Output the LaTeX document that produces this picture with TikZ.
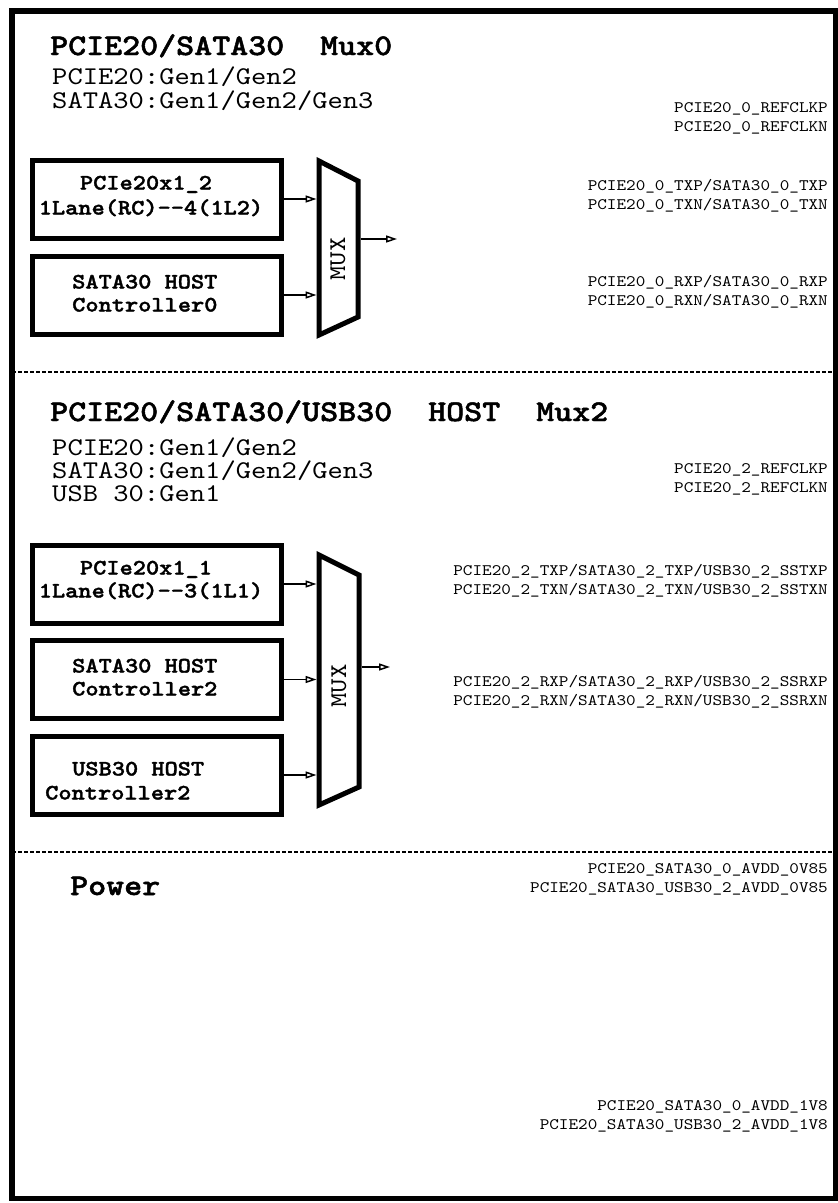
\documentclass[tikz,border=0pt]{standalone}
\usepackage{fontspec}
\newfontfamily\cour{lmmono10-regular.otf}[BoldFont=lmmonolt10-bold.otf, BoldFeatures={FakeBold=1.6}, FakeStretch=1.143]
\usetikzlibrary{arrows.meta}
\begin{document}
\begin{tikzpicture}[x=1pt,y=-1pt,
  title/.style={font=\cour\bfseries\fontsize{30}{32}\selectfont, anchor=base west, inner sep=0},
  sub/.style={font=\cour\fontsize{25.5}{27}\selectfont, anchor=base west, inner sep=0},
  sig/.style={font=\cour\fontsize{16}{18}\selectfont, anchor=base east, inner sep=0},
  btxt/.style={font=\cour\bfseries\fontsize{22}{24}\selectfont, anchor=base, inner sep=0},
  btxtw/.style={btxt, anchor=base west},
  muxtxt/.style={font=\cour\fontsize{24}{26}\selectfont, rotate=90, inner sep=0},
  blk/.style={draw, line width=5pt, minimum width=249pt, minimum height=78pt, inner sep=0},
  muxshape/.style={draw, line width=5pt},
  sepline/.style={line width=1.5pt, dash pattern=on 4pt off 2pt},
  frame/.style={line width=5.5pt},
  arr/.style={line width=1.5pt, -{Triangle[open, length=11pt, width=7pt, line width=1.5pt]}}
]
\useasboundingbox (0,0) rectangle (838,1203);

% separators and frame
\draw[sepline] (12,372) -- (835.5,372);
\draw[sepline] (12,852) -- (835.5,852);
\draw[frame] (12,11) rectangle (835.5,1198.5);

% ---------- Section 1 ----------
\node[title] (h1) at (50,55) {PCIE20/SATA30~~Mux0};
\node[sub] (s11) at (52,84.5) {PCIE20:Gen1/Gen2};
\node[sub] (s12) at (52,108) {SATA30:Gen1/Gen2/Gen3};

\node[blk] (b1) at (156.5,199) {};
\node[blk] (b2) at (156.5,295) {};
\node[btxt] (b1t1) at (146,189.5) {PCIe20x1\_2};
\node[btxt] (b1t2) at (151,214.5) {1Lane(RC)-{}-4(1L2)};
\node[btxtw] (b2t1) at (72,288.5) {SATA30 HOST};
\node[btxtw] (b2t2) at (72,311.5) {Controller0};

\coordinate (m1a) at (319,161);
\coordinate (m1b) at (358,181);
\coordinate (m1c) at (358,317);
\coordinate (m1d) at (319,335);
\draw[muxshape] (m1a) -- (m1b) -- (m1c) -- (m1d) -- cycle;
\node[muxtxt] (mux1) at (338,259) {MUX};
\coordinate (m1in) at (316.5,248);
\coordinate (m1out) at (360.5,239);
\coordinate (o1) at (397,239);
\draw[arr] (b1.east) -- (b1.east -| m1in);
\draw[arr] (b2.east) -- (b2.east -| m1in);
\draw[arr] (m1out) -- (o1);

\node[sig] (r11) at (828,112) {PCIE20\_0\_REFCLKP};
\node[sig] (r12) at (828,131) {PCIE20\_0\_REFCLKN};
\node[sig] (r13) at (828,190) {PCIE20\_0\_TXP/SATA30\_0\_TXP};
\node[sig] (r14) at (828,209) {PCIE20\_0\_TXN/SATA30\_0\_TXN};
\node[sig] (r15) at (828,286) {PCIE20\_0\_RXP/SATA30\_0\_RXP};
\node[sig] (r16) at (828,305) {PCIE20\_0\_RXN/SATA30\_0\_RXN};

% ---------- Section 2 ----------
\node[title] (h2) at (50,421) {PCIE20/SATA30/USB30~~HOST~~Mux2};
\node[sub] (s21) at (52,455) {PCIE20:Gen1/Gen2};
\node[sub] (s22) at (52,478) {SATA30:Gen1/Gen2/Gen3};
\node[sub] (s23) at (52,501) {USB~30:Gen1};

\node[blk] (bA) at (156.5,584) {};
\node[blk] (bB) at (156.5,679.5) {};
\node[blk] (bC) at (156.5,775) {};
\node[btxt] (bAt1) at (146,574.5) {PCIe20x1\_1};
\node[btxt] (bAt2) at (151,597.5) {1Lane(RC)-{}-3(1L1)};
\node[btxtw] (bBt1) at (72,672.5) {SATA30 HOST};
\node[btxtw] (bBt2) at (72,695.5) {Controller2};
\node[btxtw] (bCt1) at (72,775.5) {USB30 HOST};
\node[btxtw] (bCt2) at (45,799.5) {Controller2};

\coordinate (m2a) at (319,555);
\coordinate (m2b) at (359,575);
\coordinate (m2c) at (359,787);
\coordinate (m2d) at (319,805);
\draw[muxshape] (m2a) -- (m2b) -- (m2c) -- (m2d) -- cycle;
\node[muxtxt] (mux2) at (339,686) {MUX};
\coordinate (m2in) at (316.5,680);
\coordinate (m2out) at (361.5,667);
\coordinate (o2) at (390,667);
\draw[arr] (bA.east) -- (bA.east -| m2in);
\draw[arr] (bB.east) -- (bB.east -| m2in);
\draw[arr] (bC.east) -- (bC.east -| m2in);
\draw[arr] (m2out) -- (o2);

\node[sig] (r21) at (828,473) {PCIE20\_2\_REFCLKP};
\node[sig] (r22) at (828,492) {PCIE20\_2\_REFCLKN};
\node[sig] (r23) at (828,575) {PCIE20\_2\_TXP/SATA30\_2\_TXP/USB30\_2\_SSTXP};
\node[sig] (r24) at (828,594) {PCIE20\_2\_TXN/SATA30\_2\_TXN/USB30\_2\_SSTXN};
\node[sig] (r25) at (828,686) {PCIE20\_2\_RXP/SATA30\_2\_RXP/USB30\_2\_SSRXP};
\node[sig] (r26) at (828,705) {PCIE20\_2\_RXN/SATA30\_2\_RXN/USB30\_2\_SSRXN};

% ---------- Power ----------
\node[title] (h3) at (70,895) {Power};
\node[sig] (p1) at (828,873) {PCIE20\_SATA30\_0\_AVDD\_0V85};
\node[sig] (p2) at (828,892) {PCIE20\_SATA30\_USB30\_2\_AVDD\_0V85};
\node[sig] (p3) at (828,1110) {PCIE20\_SATA30\_0\_AVDD\_1V8};
\node[sig] (p4) at (828,1129) {PCIE20\_SATA30\_USB30\_2\_AVDD\_1V8};
\end{tikzpicture}
\end{document}
